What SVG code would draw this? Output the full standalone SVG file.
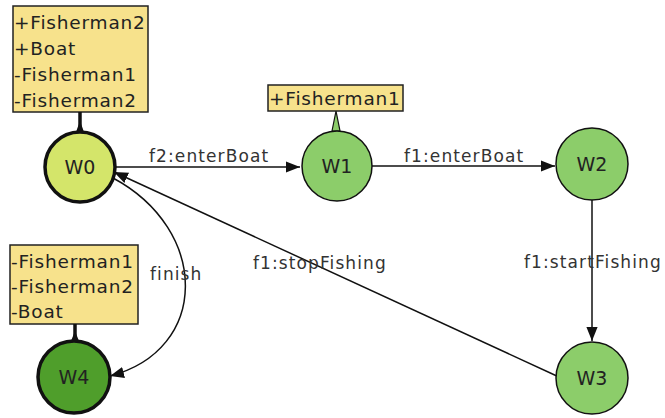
<svg xmlns="http://www.w3.org/2000/svg" width="665" height="418" viewBox="0 0 665 418">
<defs>
<style>
.box{fill:#f7e28c;stroke:#222;stroke-width:1.5}
.bt{font-family:"DejaVu Sans",sans-serif;font-size:18.5px;letter-spacing:0.8px;fill:#222}
.thick{stroke:#111;stroke-width:3.5}
.nt{font-family:"DejaVu Sans",sans-serif;font-size:19px;fill:#222;text-anchor:middle}
.lbl{font-family:"DejaVu Sans",sans-serif;font-size:17px;letter-spacing:1.1px;fill:#333}
.e{fill:none;stroke:#111;stroke-width:1.5}
</style>
<marker id="arr" viewBox="0 0 10 10" refX="10" refY="5" markerWidth="14" markerHeight="14" markerUnits="userSpaceOnUse" orient="auto">
<path d="M0,1 L10,5 L0,9 Z" fill="#111"/>
</marker>
</defs>
<rect width="665" height="418" fill="#fff"/>
<g id="connectors">
<line class="e" x1="116" y1="167" x2="300" y2="167" marker-end="url(#arr)"/>
<text class="lbl" x="149" y="162">f2:enterBoat</text>
<line class="e" x1="372" y1="166" x2="555" y2="166" marker-end="url(#arr)"/>
<text class="lbl" x="404" y="162">f1:enterBoat</text>
<line class="e" x1="592" y1="200" x2="592" y2="341" marker-end="url(#arr)"/>
<text class="lbl" x="524" y="268">f1:startFishing</text>
<line class="e" x1="559" y1="377" x2="114" y2="172" marker-end="url(#arr)"/>
<text class="lbl" x="253" y="269">f1:stopFishing</text>
<path class="e" d="M113,178 C210,230 210,350 110,376" marker-end="url(#arr)"/>
<text class="lbl" x="150" y="280">finish</text>
</g>
<g id="W0">
<rect class="box" x="13" y="6" width="135" height="106"/>
<text class="bt" x="14" y="29">+Fisherman2</text>
<text class="bt" x="14" y="55">+Boat</text>
<text class="bt" x="14" y="81">-Fisherman1</text>
<text class="bt" x="14" y="107">-Fisherman2</text>
<line class="thick" x1="80" y1="112" x2="80" y2="132"/>
<path d="M76,132 L80,121 L84,132 Z" fill="#111"/>
<circle cx="80" cy="167" r="35" fill="#d4e56a" stroke="#111" stroke-width="3.5"/>
<text class="nt" x="80" y="174">W0</text>
</g>
<g id="W1">
<rect class="box" x="268" y="85" width="135" height="26"/>
<text class="bt" x="269" y="105">+Fisherman1</text>
<path d="M332,131 L336,111 L340,131 Z" fill="#8ccd6a" stroke="#111" stroke-width="1.2"/>
<circle cx="337" cy="166" r="35" fill="#8ccd6a" stroke="#111" stroke-width="1.5"/>
<text class="nt" x="337" y="173">W1</text>
</g>
<g id="W2">
<circle cx="592" cy="164" r="36" fill="#8ccd6a" stroke="#111" stroke-width="1.5"/>
<text class="nt" x="592" y="171">W2</text>
</g>
<g id="W3">
<circle cx="592" cy="378" r="36" fill="#8ccd6a" stroke="#111" stroke-width="1.5"/>
<text class="nt" x="592" y="385">W3</text>
</g>
<g id="W4">
<rect class="box" x="10" y="245" width="128" height="79"/>
<text class="bt" x="11" y="268">-Fisherman1</text>
<text class="bt" x="11" y="293">-Fisherman2</text>
<text class="bt" x="11" y="318">-Boat</text>
<line class="thick" x1="75" y1="324" x2="75" y2="341"/>
<path d="M71,341 L75,331 L79,341 Z" fill="#111"/>
<circle cx="74" cy="377" r="36" fill="#4f9e2b" stroke="#111" stroke-width="3.5"/>
<text class="nt" x="74" y="384">W4</text>
</g>
</svg>
